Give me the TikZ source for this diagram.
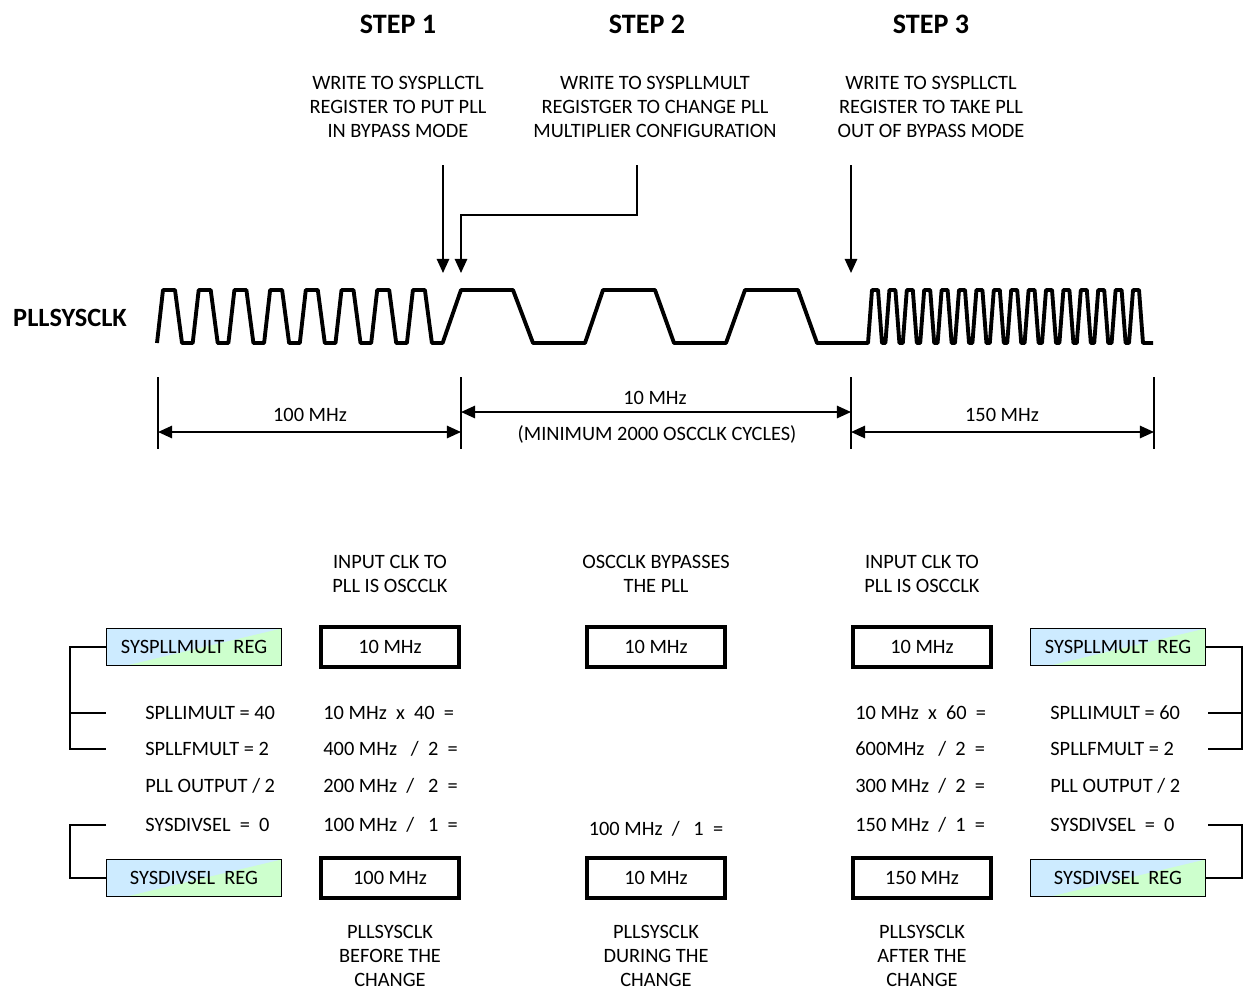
\documentclass[tikz,border=0pt]{standalone}
\usepackage{fontspec}
\setmainfont{Carlito}
\usepackage{tikz}
\usetikzlibrary{arrows.meta,positioning}
\definecolor{regblue}{RGB}{205,235,255}
\definecolor{reggreen}{RGB}{205,255,205}

\begin{document}
\begin{tikzpicture}[x=0.02cm,y=-0.02cm,
  lbl/.style={font=\fontsize{11.6}{13.8}\selectfont,align=center,inner sep=0pt},
  head/.style={font=\bfseries\fontsize{16}{19}\selectfont,inner sep=0pt},
  valbox/.style={lbl,draw,line width=2pt,minimum width=2.76cm,minimum height=0.8cm},
  regbox/.style={lbl,draw,line width=1pt,minimum width=3.5cm,minimum height=0.74cm,fill=regblue,
    path picture={\fill[reggreen] (path picture bounding box.south east) -- (path picture bounding box.north east)
      -- ([xshift=0.4cm]path picture bounding box.south west) -- cycle;}},
  wave/.style={line width=2.2pt,line join=round},
  ptr/.style={line width=1.1pt,-{Triangle[length=8pt,width=7pt]}},
  dim/.style={line width=1.1pt,{Triangle[length=8pt,width=7pt]}-{Triangle[length=8pt,width=7pt]}},
  brk/.style={line width=1pt}]
\useasboundingbox (0,0) rectangle (1243,991);

% steps
\node[head] (h_1) at (398,24) {STEP 1};
\node[head] (h_2) at (647,24) {STEP 2};
\node[head] (h_3) at (931,24) {STEP 3};
\node[lbl] (s_1) at (398,107) {WRITE TO SYSPLLCTL\\REGISTER TO PUT PLL\\IN BYPASS MODE};
\node[lbl] (s_2) at (655,107) {WRITE TO SYSPLLMULT\\REGISTGER TO CHANGE PLL\\MULTIPLIER CONFIGURATION};
\node[lbl] (s_3) at (931,107) {WRITE TO SYSPLLCTL\\REGISTER TO TAKE PLL\\OUT OF BYPASS MODE};

\coordinate (a_1) at (443,165); \coordinate (b_1) at (443,273);
\coordinate (a_2) at (637,165); \coordinate (b_2) at (461,273);
\coordinate (a_3) at (851,165); \coordinate (b_3) at (851,273);
\draw[ptr] (a_1) -- (b_1);
\draw[ptr] (a_2) |- (550,215) -| (b_2);
\draw[ptr] (a_3) -- (b_3);

% clock
\node[head,font=\bfseries\fontsize{15}{18}\selectfont] (clk) at (70,318) {PLLSYSCLK};
\draw[wave] (157,343) \foreach \i in {1,...,8} { -- ++(6,-53) -- ++(12,0) -- ++(7,53) -- ++(10.7,0) }
  -- (461,290) -- (513,290) -- (533,343) -- (585,343) -- (603,290) -- (655,290) -- (674,343)
  -- (726,343) -- (745,290) -- (798,290) -- (817,343) -- (868,343)
  \foreach \i in {1,...,16} { -- ++(4,-53) -- ++(6,0) -- ++(4,53) -- ++(3.4,0) } -- (1153,343);

% frequency spans
\foreach \x in {158,461,851,1154} \draw[line width=1.1pt] (\x,377) -- (\x,449);
\coordinate (t_1) at (158,432); \coordinate (t_2) at (461,432);
\coordinate (u_1) at (461,412); \coordinate (u_2) at (851,412);
\coordinate (t_3) at (851,432); \coordinate (t_4) at (1154,432);
\draw[dim] (t_1) -- (t_2);
\draw[dim] (u_1) -- (u_2);
\draw[dim] (t_3) -- (t_4);
\node[lbl] (f_1) at (310,415) {100 MHz};
\node[lbl] (f_2) at (655,398) {10 MHz};
\node[lbl] (f_3) at (657,434) {(MINIMUM 2000 OSCCLK CYCLES)};
\node[lbl] (f_4) at (1002,415) {150 MHz};

% before / during / after
\node[lbl] (c_1) at (390,574) {INPUT CLK TO\\PLL IS OSCCLK};
\node[lbl] (c_2) at (656,574) {OSCCLK BYPASSES\\THE PLL};
\node[lbl] (c_3) at (922,574) {INPUT CLK TO\\PLL IS OSCCLK};
\node[valbox] (i_1) at (390,647) {10 MHz};
\node[valbox] (i_2) at (656,647) {10 MHz};
\node[valbox] (i_3) at (922,647) {10 MHz};
\node[valbox] (o_1) at (390,878) {100 MHz};
\node[valbox] (o_2) at (656,878) {10 MHz};
\node[valbox] (o_3) at (922,878) {150 MHz};
\node[lbl] (p_1) at (390,956) {PLLSYSCLK\\BEFORE THE\\CHANGE};
\node[lbl] (p_2) at (656,956) {PLLSYSCLK\\DURING THE\\CHANGE};
\node[lbl] (p_3) at (922,956) {PLLSYSCLK\\AFTER THE\\CHANGE};

\node[lbl,anchor=west] (e_1) at (323,713) {10 MHz~~x~~40~~=};
\node[lbl,anchor=west] (e_2) at (323,749) {400 MHz~~~/~~2~~=};
\node[lbl,anchor=west] (e_3) at (323,786) {200 MHz~~/~~~2~~=};
\node[lbl,anchor=west] (e_4) at (323,825) {100 MHz~~/~~~1~~=};
\node[lbl] (e_5) at (656,829) {100 MHz~~/~~~1~~=};
\node[lbl,anchor=west] (g_1) at (855,713) {10 MHz~~x~~60~~=};
\node[lbl,anchor=west] (g_2) at (855,749) {600MHz~~~/~~2~~=};
\node[lbl,anchor=west] (g_3) at (855,786) {300 MHz~~/~~2~~=};
\node[lbl,anchor=west] (g_4) at (855,825) {150 MHz~~/~~1~~=};

% registers
\node[regbox] (r_1) at (194,647) {SYSPLLMULT~~REG};
\node[regbox] (d_1) at (194,878) {SYSDIVSEL~~REG};
\node[regbox] (r_2) at (1118,647) {SYSPLLMULT~~REG};
\node[regbox] (d_2) at (1118,878) {SYSDIVSEL~~REG};
\node[lbl,anchor=west] (k_1) at (145,713) {SPLLIMULT = 40};
\node[lbl,anchor=west] (k_2) at (145,749) {SPLLFMULT = 2};
\node[lbl,anchor=west] (k_3) at (145,786) {PLL OUTPUT / 2};
\node[lbl,anchor=west] (k_4) at (145,825) {SYSDIVSEL~~=~~0};
\node[lbl,anchor=west] (n_1) at (1050,713) {SPLLIMULT = 60};
\node[lbl,anchor=west] (n_2) at (1050,749) {SPLLFMULT = 2};
\node[lbl,anchor=west] (n_3) at (1050,786) {PLL OUTPUT / 2};
\node[lbl,anchor=west] (n_4) at (1050,825) {SYSDIVSEL~~=~~0};

\coordinate (m_1) at (106,713); \coordinate (m_2) at (106,749); \coordinate (m_3) at (106,825);
\coordinate (v_1) at (1208,713); \coordinate (v_2) at (1208,749); \coordinate (v_3) at (1208,825);
\draw[brk] (r_1.west) -- (70,647) |- (m_2);
\draw[brk] (70,713) -- (m_1);
\draw[brk] (m_3) -- (70,825) |- (d_1.west);
\draw[brk] (r_2.east) -- (1242,647) |- (v_2);
\draw[brk] (1242,713) -- (v_1);
\draw[brk] (v_3) -- (1242,825) |- (d_2.east);
\end{tikzpicture}
\end{document}
